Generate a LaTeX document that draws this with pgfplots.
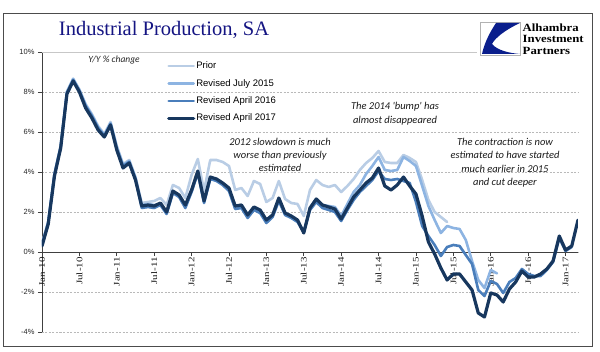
\documentclass[border=0pt]{standalone}
\usepackage{pgfplots}
\pgfplotsset{compat=1.18}
\usepackage{fontspec}
\setmainfont{Liberation Serif}
\newfontfamily\carl{Carlito}
\newfontfamily\arial{Liberation Sans}
\newfontfamily\serf{Liberation Serif}
\definecolor{cPrior}{RGB}{185,205,229}
\definecolor{cJul}{RGB}{141,180,226}
\definecolor{cAsix}{RGB}{74,126,187}
\definecolor{cAseven}{RGB}{23,55,94}
\definecolor{titleblue}{RGB}{20,20,130}
\definecolor{gridgray}{RGB}{185,185,185}
\definecolor{logoblue}{RGB}{10,30,140}
\newcommand{\xl}[1]{\scalebox{1.3}[1]{#1}}

\begin{document}
\begin{tikzpicture}[x=1pt,y=1pt]
\useasboundingbox (0,0) rectangle (600,351);
\begin{axis}[
  at={(42pt,19pt)}, anchor=south west,
  scale only axis, width=536pt, height=280pt,
  xmin=0, xmax=86, ymin=-4, ymax=10,
  axis x line=middle, axis y line=left,
  axis line style={-, draw=black!75, line width=0.9pt},
  hide obscured x ticks=false, hide obscured y ticks=false,
  xtick={0,6,...,84},
  xticklabels={\xl{Jan-10},\xl{Jul-10},\xl{Jan-11},\xl{Jul-11},\xl{Jan-12},\xl{Jul-12},\xl{Jan-13},\xl{Jul-13},\xl{Jan-14},\xl{Jul-14},\xl{Jan-15},\xl{Jul-15},\xl{Jan-16},\xl{Jul-16},\xl{Jan-17}},
  xticklabel style={rotate=90, anchor=east, font=\serf\fontsize{8.5}{9}\selectfont, inner sep=1pt, text=black!90},
  ytick={-4,-2,0,2,4,6,8,10},
  yticklabels={-4\%,-2\%,0\%,2\%,4\%,6\%,8\%,10\%},
  yticklabel style={font=\arial\fontsize{7.5}{8}\selectfont, text=black!85},
  tick align=outside, major tick length=4pt,
  tick style={black!75, line width=0.8pt},
  ymajorgrids, grid style={gridgray, dash pattern=on 2pt off 1.5pt, line width=0.5pt},
  legend style={at={(rel axis cs:0.233,0.969)}, anchor=north west, draw=none, fill=none,
    font=\arial\fontsize{9.5}{10}\selectfont, row sep=7pt, inner sep=0pt,
    nodes={inner sep=1pt}},
  legend cell align=left,
  legend image code/.code={\draw[#1] (0pt,0pt) -- (25pt,0pt);},
  every axis plot/.append style={line join=round, line cap=round},
]
\draw[gridgray!80, line width=0.7pt] (rel axis cs:0,1) -- (rel axis cs:1,1) -- (rel axis cs:1,0) -- (rel axis cs:0,0);

\addplot[cPrior, line width=2.6pt] coordinates {
(0,0.42)(1,1.52)(2,3.92)(3,5.32)(4,8.02)(5,8.67)(6,8.12)(7,7.4)(8,6.9)(9,6.3)(10,5.9)(11,6.5)(12,5.3)(13,4.4)(14,4.6)(15,3.75)(16,2.45)(17,2.5)(18,2.55)
(19,2.7)(20,2.35)(21,3.35)(22,3.2)(23,2.7)(24,3.85)(25,4.65)(26,3.05)(27,4.6)(28,4.6)(29,4.5)(30,4.3)(31,3.1)(32,3.2)(33,2.8)(34,3.55)(35,3.4)(36,2.5)(37,2.7)(38,3.55)(39,2.65)
(40,2.45)(41,2.4)(42,1.8)(43,3.1)(44,3.6)(45,3.35)(46,3.25)(47,3.35)(48,3.0)(49,3.3)(50,3.65)(51,4.1)(52,4.45)(53,4.7)(54,5.05)(55,4.5)(56,4.45)(57,4.45)(58,4.85)(59,4.7)
(60,4.5)(61,3.6)(62,2.6)(63,2.0)(64,1.75)(65,1.5)};
\addlegendentry{Prior}

\addplot[cJul, line width=2.6pt] coordinates {
(0,0.4)(1,1.5)(2,3.9)(3,5.3)(4,8.0)(5,8.65)(6,8.1)(7,7.35)(8,6.85)(9,6.25)(10,5.85)(11,6.45)(12,5.25)(13,4.35)(14,4.55)(15,3.7)(16,2.35)(17,2.4)(18,2.35)
(19,2.4)(20,1.95)(21,3.0)(22,2.8)(23,2.25)(24,3.05)(25,3.95)(26,2.5)(27,3.7)(28,3.6)(29,3.4)(30,3.1)(31,2.2)(32,2.3)(33,1.8)(34,2.2)(35,2.05)(36,1.55)(37,1.8)(38,2.65)(39,1.9)
(40,1.75)(41,1.55)(42,1.0)(43,2.2)(44,2.6)(45,2.35)(46,2.3)(47,2.25)(48,1.8)(49,2.4)(50,3.0)(51,3.35)(52,3.9)(53,4.3)(54,4.75)(55,4.1)(56,4.05)(57,4.1)(58,4.75)(59,4.55)
(60,4.3)(61,3.3)(62,2.3)(63,1.6)(64,0.95)(65,1.3)(66,1.2)(67,1.15)(68,0.6)(69,-0.45)(70,-1.4)(71,-1.8)(72,-0.9)(73,-1.07)};
\addlegendentry{Revised July 2015}

\addplot[cAsix, line width=2.6pt] coordinates {
(0,0.35)(1,1.45)(2,3.85)(3,5.25)(4,7.95)(5,8.6)(6,8.05)(7,7.3)(8,6.8)(9,6.2)(10,5.8)(11,6.4)(12,5.15)(13,4.3)(14,4.5)(15,3.65)(16,2.2)(17,2.25)(18,2.2)
(19,2.35)(20,1.9)(21,2.95)(22,2.75)(23,2.2)(24,3.0)(25,3.95)(26,2.45)(27,3.65)(28,3.55)(29,3.35)(30,3.05)(31,2.15)(32,2.2)(33,1.7)(34,2.1)(35,1.95)(36,1.45)(37,1.75)(38,2.55)(39,1.85)
(40,1.7)(41,1.5)(42,1.0)(43,2.1)(44,2.5)(45,2.2)(46,2.1)(47,2.0)(48,1.55)(49,2.1)(50,2.6)(51,3.0)(52,3.3)(53,3.6)(54,4.05)(55,3.65)(56,3.6)(57,3.65)(58,3.55)(59,3.45)
(60,2.5)(61,1.3)(62,0.8)(63,0.35)(64,-0.2)(65,0.25)(66,0.35)(67,0.3)(68,-0.15)(69,-0.6)(70,-1.9)(71,-2.2)(72,-1.45)(73,-1.6)(74,-2.05)(75,-1.5)(76,-1.3)(77,-0.85)(78,-1.1)(79,-1.2)
(80,-1.2)(81,-0.9)(82,-0.5)(83,0.7)(84,0.05)(85,0.25)};
\addlegendentry{Revised April 2016}

\addplot[cAseven, line width=3.2pt] coordinates {
(0,0.3)(1,1.4)(2,3.8)(3,5.2)(4,7.9)(5,8.55)(6,8.0)(7,7.2)(8,6.7)(9,6.1)(10,5.75)(11,6.35)(12,5.1)(13,4.2)(14,4.45)(15,3.6)(16,2.3)(17,2.35)(18,2.3)
(19,2.45)(20,2.0)(21,3.05)(22,2.85)(23,2.35)(24,3.1)(25,4.05)(26,2.55)(27,3.75)(28,3.65)(29,3.45)(30,3.2)(31,2.3)(32,2.35)(33,1.85)(34,2.25)(35,2.1)(36,1.6)(37,1.85)(38,2.7)(39,1.95)
(40,1.8)(41,1.6)(42,0.95)(43,2.2)(44,2.65)(45,2.35)(46,2.25)(47,2.15)(48,1.65)(49,2.2)(50,2.75)(51,3.1)(52,3.45)(53,3.7)(54,4.2)(55,3.3)(56,3.1)(57,3.35)(58,3.75)(59,3.3)
(60,2.9)(61,1.8)(62,0.5)(63,-0.1)(64,-0.8)(65,-1.4)(66,-1.1)(67,-1.1)(68,-1.5)(69,-1.9)(70,-3.05)(71,-3.25)(72,-2.05)(73,-2.15)(74,-2.5)(75,-1.85)(76,-1.5)(77,-0.95)(78,-1.25)(79,-1.25)
(80,-1.1)(81,-0.85)(82,-0.45)(83,0.8)(84,0.1)(85,0.3)(86,1.6)};
\addlegendentry{Revised April 2017}
\end{axis}

% annotations
\node[font=\carl\itshape\fontsize{9.5}{10}\selectfont, text=black!85] at (114,291) {Y/Y \% change};
\node[font=\carl\itshape\fontsize{10.5}{13.3}\selectfont, align=center, text=black!90] at (280,196) {2012 slowdown is much\\worse than previously\\estimated};
\node[font=\carl\itshape\fontsize{10.5}{14}\selectfont, align=center, text=black!90] at (395,237) {The 2014 'bump' has\\almost disappeared};
\node[font=\carl\itshape\fontsize{10.5}{13.5}\selectfont, align=center, text=black!90] at (505,188.5) {The contraction  is now\\estimated to have started\\much earlier in 2015\\and cut deeper};

% title
\node[anchor=base, font=\serf\fontsize{20.5}{22}\selectfont, text=titleblue] at (164,315) {Industrial Production, SA};

% logo
\fill[white] (477,335) rectangle (591,292);
\draw[gray!60, fill=white, line width=0.4pt] (480,329) rectangle (520,296);
\fill[logoblue] (496,328) -- (520,328) .. controls (505,321) and (495,313) .. (492,307)
  .. controls (497,301) and (508,298) .. (520,297) -- (482,297) .. controls (484,306) and (488,316) .. cycle;
\node[anchor=base west, font=\serf\bfseries\fontsize{11}{11}\selectfont, inner sep=0pt] at (522.5,319.5) {\scalebox{1.16}[1]{Alhambra}};
\node[anchor=base west, font=\serf\bfseries\fontsize{11}{11}\selectfont, inner sep=0pt] at (522.5,308) {\scalebox{1.16}[1]{Investment}};
\node[anchor=base west, font=\serf\bfseries\fontsize{11}{11}\selectfont, inner sep=0pt] at (522.5,296.8) {\scalebox{1.16}[1]{Partners}};

% outer frame
\draw[black!70, line width=1pt] (3.5,337) rectangle (592.5,4.5);
\end{tikzpicture}
\end{document}
